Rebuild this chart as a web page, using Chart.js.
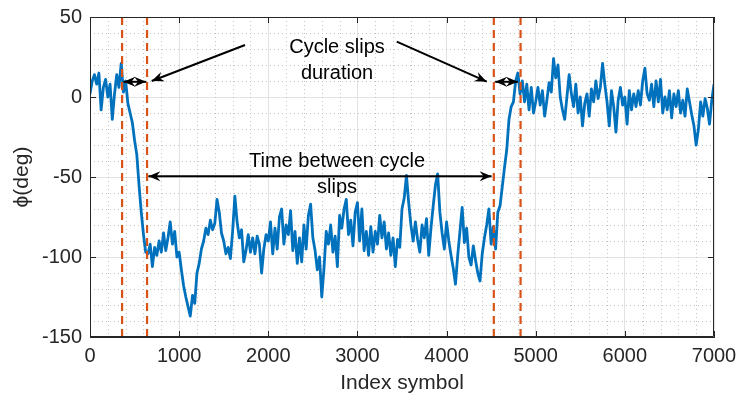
<!DOCTYPE html>
<html>
  <head>
    <title>Cycle slips</title>
    <script src="https://cdn.jsdelivr.net/npm/chart.js@4.4.1/dist/chart.umd.min.js"></script>
    <style>
      body { margin: 0; background: #fff; }
    </style>
  </head>

  <body>
    <canvas id="canvas" width="739" height="400"></canvas>
    <script>
      // phase samples, one every sampleStep symbols (0 .. 7000)
      const sampleStep = 25;
      const phiDeg = [
        // 0 - 1000
        2, 10, 14, 8, 15, -8, 6, 11, 0, 8, -14, 2, 14, 6, 21, 3, 10, -4, -10, -16,
        -27, -36, -55, -72, -86, -97, -98, -92, -106, -94, -99, -90, -97, -85, -96, -88,
        -78, -92, -84, -100, -97,
        // 1025 - 2000
        -108, -118, -125, -131, -137, -124, -129, -110, -104, -95,
        -90, -82, -86, -77, -83, -79, -64, -72, -85, -90,
        -98, -94, -101, -84, -62, -78, -88, -83, -103, -96,
        -86, -97, -88, -98, -87, -92, -110, -95, -86, -90,
        // 2025 - 3050
        -78, -98, -82, -95, -75, -70, -92, -80, -86, -71,
        -96, -84, -104, -88, -103, -80, -95, -74, -67, -88,
        -96, -108, -100, -125, -107, -84, -92, -80, -97, -87,
        -106, -74, -82, -70, -64, -86, -77, -93, -72, -66,
        -90, -70,
        // 3075 - 4050
        -96, -84, -99, -81, -97, -84, -92, -74, -88, -78,
        -95, -85, -99, -88, -106, -89, -94, -70, -63, -49,
        -66, -80, -90, -78, -89, -97, -80, -88, -76, -99,
        -82, -68, -55, -48, -72, -85, -95, -78, -90, -99,
        // 4075 - 5000
        -107, -117, -99, -84, -69, -91, -82, -100, -105, -93,
        -102, -110, -115, -98, -88, -80, -70, -92, -81, -95,
        -72, -68, -56, -44, -33, -14, -6, -3, 10, 15,
        2, 10, -3, 8, -8, 6, -10, -3,
        // 5025 - 6000
        6, -5, 4, -12, -2, 9, 3, 24, 12, 20,
        0, -8, -14, 0, 14, 2, -6, 8, -10, 0,
        -18, -4, 2, -12, 5, -3, 10, -1, 6, 21,
        8, -3, -18, 4, -6, -22, -2, 6, -5, 0,
        // 6025 - 7000
        -17, 4, -8, 2, -6, 4, -5, 10, 18, 2,
        -2, 8, -6, 10, -3, 11, -10, 0, -8, 4,
        -13, 2, -6, 4, -10, -2, -12, 5, -3, -11,
        -18, -30, -20, -3, -12, -1, -7, -17, -2, 8,
      ];

      // start / end of the two cycle slips
      const slipMarks = [360, 640, 4530, 4830];

      const textDuration = ['Cycle slips', 'duration'];
      const textBetween = ['Time between cycle', 'slips'];

      const ink = '#262626';
      const font20 = { family: 'Liberation Sans, Arial, sans-serif', size: 20 };

      const phaseLine = {
        data: phiDeg.map((v, i) => ({ x: i * sampleStep, y: v })),
        borderColor: '#0072BD',
        borderWidth: 2.8,
        borderJoinStyle: 'round',
        pointRadius: 0,
        tension: 0,
      };

      const slipLines = slipMarks.map((s) => ({
        data: [{ x: s, y: -150 }, { x: s, y: 50 }],
        borderColor: '#D95319',
        borderWidth: 2.2,
        borderDash: [8, 5],
        pointRadius: 0,
      }));

      function arrowHead(ctx, x0, y0, x1, y1) {
        const ang = Math.atan2(y1 - y0, x1 - x0);
        ctx.save();
        ctx.translate(x1, y1);
        ctx.rotate(ang);
        ctx.beginPath();
        ctx.moveTo(0, 0);
        ctx.lineTo(-12, -5);
        ctx.lineTo(-8, 0);
        ctx.lineTo(-12, 5);
        ctx.closePath();
        ctx.fill();
        ctx.restore();
      }

      function arrow(ctx, x0, y0, x1, y1, both) {
        ctx.beginPath();
        ctx.moveTo(x0, y0);
        ctx.lineTo(x1, y1);
        ctx.stroke();
        arrowHead(ctx, x0, y0, x1, y1);
        if (both) arrowHead(ctx, x1, y1, x0, y0);
      }

      const frame = {
        id: 'frame',
        beforeDatasetsDraw(chart) {
          // dotted minor grid
          const { ctx, chartArea: a, scales: { x, y } } = chart;
          ctx.save();
          ctx.strokeStyle = '#c4c4c4';
          ctx.lineWidth = 1;
          ctx.setLineDash([1, 3]);
          ctx.beginPath();
          for (let v = 200; v < 7000; v += 200) {
            if (v % 1000 === 0) continue;
            const px = Math.round(x.getPixelForValue(v)) + 0.5;
            ctx.moveTo(px, a.top);
            ctx.lineTo(px, a.bottom);
          }
          for (let v = -140; v < 50; v += 10) {
            if (v % 50 === 0) continue;
            const py = Math.round(y.getPixelForValue(v)) + 0.5;
            ctx.moveTo(a.left, py);
            ctx.lineTo(a.right, py);
          }
          ctx.stroke();
          ctx.restore();
        },
        afterDatasetsDraw(chart) {
          const { ctx, scales: { x, y } } = chart;
          const X = (v) => x.getPixelForValue(v);
          const Y = (v) => y.getPixelForValue(v);
          ctx.save();
          ctx.strokeStyle = '#000';
          ctx.fillStyle = '#000';
          ctx.lineWidth = 2;
          arrow(ctx, X(1739), Y(32.5), X(692), Y(10));
          arrow(ctx, X(3441), Y(34.6), X(4451), Y(9.6));
          arrow(ctx, X(375), Y(9.5), X(630), Y(9.5), true);
          arrow(ctx, X(4545), Y(9.5), X(4800), Y(9.5), true);
          arrow(ctx, X(655), Y(-49.5), X(4505), Y(-49.5), true);

          ctx.font = '20px "Liberation Sans", Arial, sans-serif';
          ctx.textAlign = 'center';
          ctx.textBaseline = 'alphabetic';
          ctx.fillText(textDuration[0], X(2771), Y(27.3));
          ctx.fillText(textDuration[1], X(2771), Y(11.1));
          ctx.fillText(textBetween[0], X(2771), Y(-44));
          ctx.fillText(textBetween[1], X(2771), Y(-60));
          ctx.restore();
        },
        afterDraw(chart) {
          // box and inward ticks
          const { ctx, chartArea: a, scales: { x, y } } = chart;
          ctx.save();
          ctx.strokeStyle = ink;
          ctx.lineWidth = 1;
          ctx.beginPath();
          ctx.rect(a.left + 0.5, a.top + 0.5, a.right - a.left - 1, a.bottom - a.top - 1);
          for (let v = 0; v <= 7000; v += 1000) {
            const px = Math.round(x.getPixelForValue(v)) + 0.5;
            ctx.moveTo(px, a.bottom);
            ctx.lineTo(px, a.bottom - 6);
            ctx.moveTo(px, a.top);
            ctx.lineTo(px, a.top + 6);
          }
          for (let v = -150; v <= 50; v += 50) {
            const py = Math.round(y.getPixelForValue(v)) + 0.5;
            ctx.moveTo(a.left, py);
            ctx.lineTo(a.left + 6, py);
            ctx.moveTo(a.right, py);
            ctx.lineTo(a.right - 6, py);
          }
          ctx.stroke();
          ctx.restore();
        },
      };

      new Chart(document.getElementById('canvas'), {
        type: 'line',
        data: { datasets: [...slipLines, phaseLine] },
        options: {
          responsive: false,
          animation: false,
          layout: { padding: { top: 17, right: 25, left: 0, bottom: 0 } },
          plugins: { legend: { display: false }, tooltip: { enabled: false } },
          scales: {
            x: {
              type: 'linear',
              min: 0,
              max: 7000,
              ticks: { stepSize: 1000, color: ink, font: font20, padding: 7, maxRotation: 0, callback: (v) => String(v) },
              grid: { color: '#e2e2e2', drawTicks: false },
              border: { color: ink },
              title: { display: true, text: 'Index symbol', color: ink, font: { family: font20.family, size: 21 }, padding: { top: 0, bottom: 4 } },
              afterFit(s) {
                s.height = 63;
                s.paddingLeft = 0;
                s.paddingRight = 0;
              },
            },
            y: {
              min: -150,
              max: 50,
              ticks: { stepSize: 50, color: ink, font: font20, padding: 8, callback: (v) => String(v) },
              grid: { color: '#e2e2e2', drawTicks: false },
              border: { color: ink },
              title: { display: true, text: '\u03D5(deg)', color: ink, font: { family: font20.family, size: 21 }, padding: { top: 10, bottom: 0 } },
              afterFit(s) {
                s.width = 90;
                s.paddingTop = 0;
                s.paddingBottom = 0;
              },
            },
          },
        },
        plugins: [frame],
      });
    </script>
  </body>
</html>
